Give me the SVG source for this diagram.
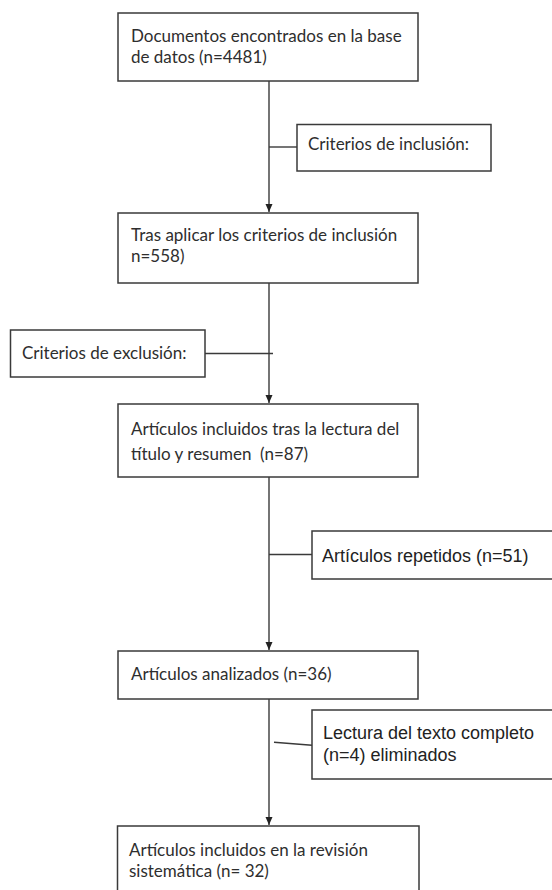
<svg xmlns="http://www.w3.org/2000/svg" width="552" height="890" viewBox="0 0 552 890">
<defs>
<style>
.box{fill:#fff;stroke:#3a3a3a;stroke-width:1.5}
.ln{stroke:#3a3a3a;stroke-width:1.4;fill:none}
.c{font-family:Lato,"Open Sans","Liberation Sans",sans-serif;font-size:17px;fill:#2e2e2e}
.a{font-family:"Liberation Sans",Arial,sans-serif;font-size:18px;fill:#222}
</style>
<marker id="ah" viewBox="0 0 8 8" refX="8" refY="4" markerWidth="8" markerHeight="8" markerUnits="userSpaceOnUse" orient="auto">
<path d="M0,0.5 L8,4 L0,7.5 Z" fill="#222"/>
</marker>
</defs>
<rect width="552" height="890" fill="#fff"/>
<g id="connectors">
<line class="ln" x1="269" y1="81" x2="269" y2="212" marker-end="url(#ah)"/>
<line class="ln" x1="269" y1="147" x2="297" y2="147"/>
<line class="ln" x1="269" y1="283" x2="269" y2="403" marker-end="url(#ah)"/>
<line class="ln" x1="205" y1="353.5" x2="273" y2="353.5"/>
<line class="ln" x1="269" y1="477" x2="269" y2="650" marker-end="url(#ah)"/>
<line class="ln" x1="269" y1="554.5" x2="312" y2="554.5"/>
<line class="ln" x1="269" y1="699" x2="269" y2="825" marker-end="url(#ah)"/>
<line class="ln" x1="274" y1="742.3" x2="312" y2="745.3"/>
</g>
<g id="n1">
<rect class="box" x="118" y="13" width="300" height="68"/>
<text class="c" x="131" y="42">Documentos encontrados en la base</text>
<text class="c" x="131" y="63">de datos (n=4481)</text>
</g>
<g id="n2">
<rect class="box" x="297" y="124.5" width="194" height="46.5"/>
<text class="c" x="308" y="150">Criterios de inclusión:</text>
</g>
<g id="n3">
<rect class="box" x="118" y="213" width="300" height="70"/>
<text class="c" x="131" y="241">Tras aplicar los criterios de inclusión</text>
<text class="c" x="131" y="262">n=558)</text>
</g>
<g id="n4">
<rect class="box" x="10.5" y="330" width="194.5" height="47"/>
<text class="c" x="22" y="359">Criterios de exclusión:</text>
</g>
<g id="n5">
<rect class="box" x="118" y="404" width="300" height="73"/>
<text class="c" x="131" y="435">Artículos incluidos tras la lectura del</text>
<text class="c" x="131" y="460" xml:space="preserve">título y resumen  (n=87)</text>
</g>
<g id="n6">
<rect class="box" x="312" y="531" width="250" height="48"/>
<text class="a" x="322" y="562">Artículos repetidos (n=51)</text>
</g>
<g id="n7">
<rect class="box" x="118" y="651" width="300" height="48"/>
<text class="c" x="131" y="680">Artículos analizados (n=36)</text>
</g>
<g id="n8">
<rect class="box" x="312" y="710" width="250" height="69"/>
<text class="a" x="323" y="739">Lectura del texto completo</text>
<text class="a" x="323" y="761">(n=4) eliminados</text>
</g>
<g id="n9">
<rect class="box" x="117.5" y="826" width="301.5" height="80"/>
<text class="c" x="129" y="856">Artículos incluidos en la revisión</text>
<text class="c" x="129" y="877">sistemática (n= 32)</text>
</g>
</svg>
